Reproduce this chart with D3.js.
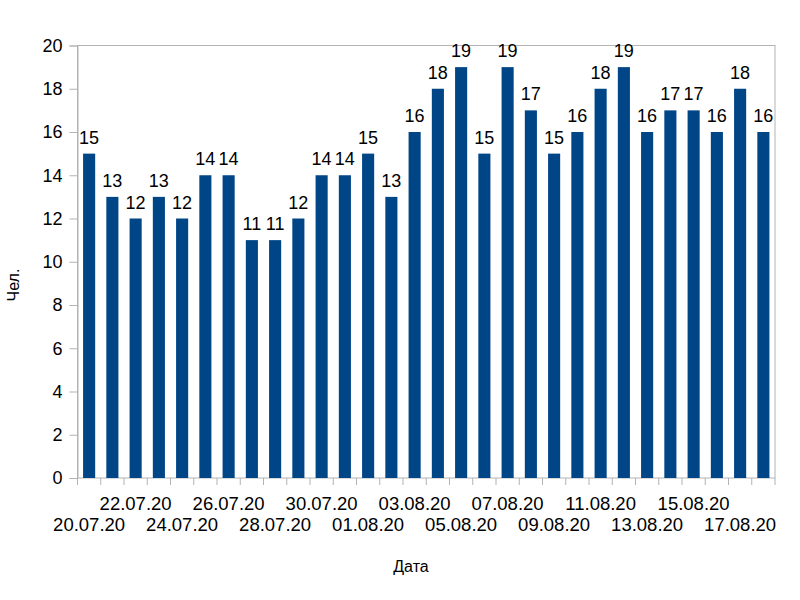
<!DOCTYPE html>
<html><head><meta charset="utf-8">
<script src="https://cdn.jsdelivr.net/npm/d3@7"></script>
<style>body{margin:0;background:#fff}</style>
</head><body>
<svg id="c" width="800" height="600"></svg>
<script>
const dates = ["20.07.20","21.07.20","22.07.20","23.07.20","24.07.20","25.07.20","26.07.20","27.07.20","28.07.20","29.07.20","30.07.20","31.07.20","01.08.20","02.08.20","03.08.20","04.08.20","05.08.20","06.08.20","07.08.20","08.08.20","09.08.20","10.08.20","11.08.20","12.08.20","13.08.20","14.08.20","15.08.20","16.08.20","17.08.20","18.08.20"];
const values = [15,13,12,13,12,14,14,11,11,12,14,14,15,13,16,18,19,15,19,17,15,16,18,19,16,17,17,16,18,16];
const yTicks = [0,2,4,6,8,10,12,14,16,18,20];
const xTitle = "Дата";
const yTitle = "Чел.";

const svg = d3.select("#c");
const L = 77.5, R = 775, T = 45.5, B = 478;
const font = "Liberation Sans, Arial, sans-serif";
const x = d3.scaleBand().domain(dates).range([L, R]).paddingInner(0.48).paddingOuter(0.24);
const y = d3.scaleLinear().domain([0, 20]).range([B, T]);
const gray = "#b3b3b3";

// plot frame
svg.append("rect").attr("x", L).attr("y", T).attr("width", R - L).attr("height", B - T)
  .attr("fill", "none").attr("stroke", gray).attr("stroke-width", 1);

// bars
svg.append("g").selectAll("rect").data(values).join("rect")
  .attr("x", (d, i) => x(dates[i]))
  .attr("width", x.bandwidth())
  .attr("y", d => y(d))
  .attr("height", d => B - y(d))
  .attr("fill", "#004586");

// value labels
svg.append("g").selectAll("text").data(values).join("text")
  .attr("x", (d, i) => x(dates[i]) + x.bandwidth() / 2)
  .attr("y", d => y(d) - 10)
  .attr("text-anchor", "middle")
  .attr("font-family", font).attr("font-size", 18).attr("fill", "#000")
  .text(d => d);

// y axis
const yAxis = d3.axisLeft(y).tickValues(yTicks).tickSize(8).tickPadding(7);
const gy = svg.append("g").attr("transform", `translate(${L},0)`).call(yAxis);
gy.select(".domain").attr("stroke", gray);
gy.selectAll(".tick line").attr("stroke", gray);
gy.selectAll(".tick text").attr("font-family", font).attr("font-size", 18).attr("fill", "#000");

// x axis ticks at band boundaries
const bounds = d3.range(dates.length + 1).map(i => L + i * (R - L) / dates.length);
svg.append("g").selectAll("line").data(bounds).join("line")
  .attr("x1", d => d).attr("x2", d => d).attr("y1", B).attr("y2", B + 7)
  .attr("stroke", gray);

// x labels: every other date, alternating rows
svg.append("g").selectAll("text").data(dates.filter((d, i) => i % 2 === 0)).join("text")
  .attr("x", d => x(d) + x.bandwidth() / 2)
  .attr("y", (d, i) => i % 2 === 0 ? 531 : 510)
  .attr("text-anchor", "middle")
  .attr("font-family", font).attr("font-size", 18.5).attr("fill", "#000")
  .text(d => d);

// titles
svg.append("text").attr("x", 411).attr("y", 572).attr("text-anchor", "middle")
  .attr("font-family", font).attr("font-size", 16).attr("fill", "#000").text(xTitle);
svg.append("text").attr("transform", `translate(19,285) rotate(-90)`)
  .attr("text-anchor", "middle")
  .attr("font-family", font).attr("font-size", 16).attr("fill", "#000").text(yTitle);
</script>
</body></html>
